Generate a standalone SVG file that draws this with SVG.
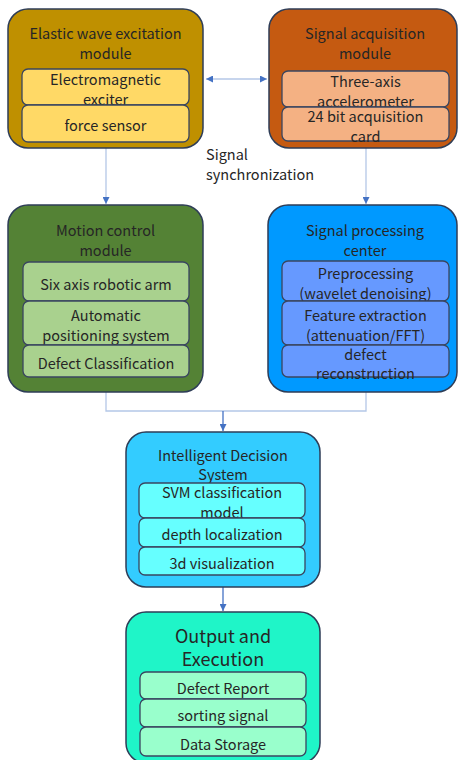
<svg xmlns="http://www.w3.org/2000/svg" width="460" height="760" viewBox="0 0 460 760">
  <defs>
    <marker id="arrow" viewBox="0 0 10 10" refX="10" refY="5" markerWidth="7" markerHeight="7" markerUnits="userSpaceOnUse" orient="auto-start-reverse">
      <path d="M0,0 L10,5 L0,10 z" fill="#4472c4"/>
    </marker>
    <style>
      text { font-family: "Noto Sans CJK SC", "Noto Sans", sans-serif; font-size: 14.5px; fill: #262626; text-anchor: middle; dominant-baseline: central; }
      .big { font-size: 18px; }
      .note { text-anchor: start; }
      .outer { stroke: #2e3d57; stroke-width: 1.5; }
      .inner { stroke: #3a4660; stroke-width: 1.3; }
      .link { fill: none; stroke: #b4c7e7; stroke-width: 1.3; }
      .link-dark { fill: none; stroke: #4472c4; stroke-width: 1.3; }
    </style>
  </defs>

  <!-- connectors -->
  <g id="connectors">
    <line class="link" x1="206" y1="79" x2="267" y2="79" marker-start="url(#arrow)" marker-end="url(#arrow)"/>
    <line class="link" x1="106" y1="148" x2="106" y2="204" marker-end="url(#arrow)"/>
    <line class="link" x1="366" y1="148" x2="366" y2="204" marker-end="url(#arrow)"/>
    <polyline class="link" points="106,392 106,411 366,411 366,392"/>
    <line class="link-dark" x1="223" y1="411" x2="223" y2="431" marker-end="url(#arrow)"/>
    <line class="link-dark" x1="223" y1="587" x2="223" y2="611" marker-end="url(#arrow)"/>
    <text class="note" x="206" y="153">Signal</text>
    <text class="note" x="206" y="173">synchronization</text>
  </g>

  <!-- elastic wave excitation -->
  <g id="excitation">
    <rect class="outer" x="8" y="9" width="195" height="139" rx="20" fill="#bf9000"/>
    <text x="105.5" y="32">Elastic wave excitation</text>
    <text x="105.5" y="52">module</text>
    <rect class="inner" x="22" y="69" width="167" height="36" rx="6" fill="#ffd966"/>
    <text x="105.5" y="78">Electromagnetic</text>
    <text x="105.5" y="98">exciter</text>
    <rect class="inner" x="22" y="105" width="167" height="37" rx="6" fill="#ffd966"/>
    <text x="105.5" y="124">force sensor</text>
  </g>

  <!-- signal acquisition -->
  <g id="acquisition">
    <rect class="outer" x="269" y="9" width="188" height="139" rx="20" fill="#c55a11"/>
    <text x="365" y="32">Signal acquisition</text>
    <text x="365" y="52">module</text>
    <rect class="inner" x="282" y="71" width="167" height="36" rx="6" fill="#f4b183"/>
    <text x="365.5" y="80">Three-axis</text>
    <text x="365.5" y="100">accelerometer</text>
    <rect class="inner" x="282" y="107" width="167" height="34" rx="6" fill="#f4b183"/>
    <text x="365.5" y="115">24 bit acquisition</text>
    <text x="365.5" y="135">card</text>
  </g>

  <!-- motion control -->
  <g id="motion">
    <rect class="outer" x="8" y="205" width="195" height="187" rx="20" fill="#548235"/>
    <text x="105.5" y="229">Motion control</text>
    <text x="105.5" y="249">module</text>
    <rect class="inner" x="23" y="262" width="166" height="39" rx="6" fill="#a9d18e"/>
    <text x="106" y="283">Six axis robotic arm</text>
    <rect class="inner" x="23" y="301" width="166" height="44" rx="6" fill="#a9d18e"/>
    <text x="106" y="314">Automatic</text>
    <text x="106" y="334">positioning system</text>
    <rect class="inner" x="23" y="345" width="166" height="32" rx="6" fill="#a9d18e"/>
    <text x="106" y="362">Defect Classification</text>
  </g>

  <!-- signal processing -->
  <g id="processing">
    <rect class="outer" x="268" y="205" width="189" height="187" rx="20" fill="#0099ff"/>
    <text x="365" y="229">Signal processing</text>
    <text x="365" y="249">center</text>
    <rect class="inner" x="282" y="261" width="167" height="40" rx="6" fill="#6699ff"/>
    <text x="365.5" y="272">Preprocessing</text>
    <text x="365.5" y="292">(wavelet denoising)</text>
    <rect class="inner" x="282" y="301" width="167" height="44" rx="6" fill="#6699ff"/>
    <text x="365.5" y="314">Feature extraction</text>
    <text x="365.5" y="334">(attenuation/FFT)</text>
    <rect class="inner" x="282" y="345" width="167" height="32" rx="6" fill="#6699ff"/>
    <text x="365.5" y="353">defect</text>
    <text x="365.5" y="372">reconstruction</text>
  </g>

  <!-- intelligent decision -->
  <g id="decision">
    <rect class="outer" x="126" y="432" width="194" height="155" rx="20" fill="#33ccff"/>
    <text x="223" y="454">Intelligent Decision</text>
    <text x="223" y="473">System</text>
    <rect class="inner" x="139" y="483" width="166" height="35" rx="6" fill="#66ffff"/>
    <text x="222" y="491">SVM classification</text>
    <text x="222" y="511">model</text>
    <rect class="inner" x="139" y="518" width="166" height="29" rx="6" fill="#66ffff"/>
    <text x="222" y="533">depth localization</text>
    <rect class="inner" x="139" y="547" width="166" height="28" rx="6" fill="#66ffff"/>
    <text x="222" y="562">3d visualization</text>
  </g>

  <!-- output and execution -->
  <g id="output">
    <rect class="outer" x="126" y="612" width="194" height="151" rx="20" fill="#1ff5c8"/>
    <text class="big" x="223" y="635">Output and</text>
    <text class="big" x="223" y="658">Execution</text>
    <rect class="inner" x="140" y="672" width="166" height="27" rx="6" fill="#99ffcc"/>
    <text x="223" y="687">Defect Report</text>
    <rect class="inner" x="140" y="699" width="166" height="28" rx="6" fill="#99ffcc"/>
    <text x="223" y="714">sorting signal</text>
    <rect class="inner" x="140" y="727" width="166" height="29" rx="6" fill="#99ffcc"/>
    <text x="223" y="743">Data Storage</text>
  </g>
</svg>
